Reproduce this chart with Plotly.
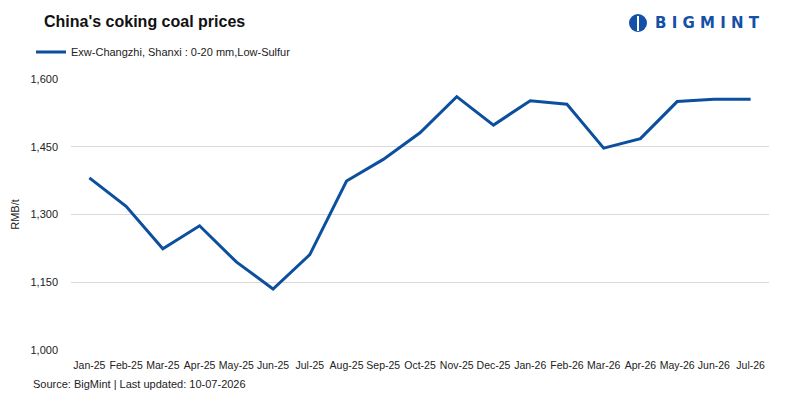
import plotly.graph_objects as go

months = ["Jan-25", "Feb-25", "Mar-25", "Apr-25", "May-25", "Jun-25", "Jul-25",
          "Aug-25", "Sep-25", "Oct-25", "Nov-25", "Dec-25", "Jan-26", "Feb-26",
          "Mar-26", "Apr-26", "May-26", "Jun-26", "Jul-26"]
prices = [1381, 1318, 1224, 1275, 1195, 1135, 1211, 1374, 1422, 1481, 1561,
          1498, 1552, 1544, 1447, 1468, 1550, 1555, 1555]
series_name = "Exw-Changzhi, Shanxi : 0-20 mm,Low-Sulfur"
y_ticks = [1000, 1150, 1300, 1450, 1600]
y_ticklabels = ["1,000", "1,150", "1,300", "1,450", "1,600"]

BLUE = "#0b4f9e"
FONT = "Liberation Sans"

L, R, T, B = 71, 31, 79, 50
PW, PH = 800 - L - R, 400 - T - B


def px(x):
    return (x - L) / PW


def py(y):
    return (400 - B - y) / PH


fig = go.Figure()
fig.add_trace(go.Scatter(x=months, y=prices, mode="lines", name=series_name,
                         line=dict(color=BLUE, width=3)))

fig.update_layout(
    width=800, height=400,
    margin=dict(l=L, r=R, t=T, b=B, autoexpand=False),
    paper_bgcolor="white", plot_bgcolor="white",
    font=dict(family=FONT, size=11, color="#222"),
    showlegend=True,
    legend=dict(orientation="h", x=px(31), y=py(52), xanchor="left", yanchor="middle",
                font=dict(size=11, color="#222"), bgcolor="rgba(0,0,0,0)",
                itemwidth=30),
    xaxis=dict(type="category", showgrid=False, zeroline=False, showline=False,
               ticks="", tickangle=0, automargin=False, ticklabelstandoff=7,
               tickfont=dict(size=10.5, color="#222"), range=[-0.5, 18.5]),
    yaxis=dict(range=[1000, 1600], tickvals=y_ticks, ticktext=y_ticklabels,
               showgrid=True, gridcolor="#d9d9d9", gridwidth=1, zeroline=False,
               showline=False, ticks="", ticklabelstandoff=12, automargin=False,
               tickfont=dict(size=11, color="#222"),
               title=dict(text="RMB/t", font=dict(size=11, color="#222"), standoff=8)),
)

fig.add_annotation(text="<b>China's coking coal prices</b>", xref="paper", yref="paper",
                   x=px(42), y=py(22), xanchor="left", yanchor="middle",
                   showarrow=False, font=dict(size=16, color="#111", family=FONT))
fig.add_annotation(text="Source: BigMint | Last updated: 10-07-2026", xref="paper", yref="paper",
                   x=px(31), y=py(384), xanchor="left", yanchor="middle",
                   showarrow=False, font=dict(size=11, color="#222", family=FONT))
# logo
fig.add_annotation(text="<b>B I G M I N T</b>", xref="paper", yref="paper",
                   x=px(653), y=py(23), xanchor="left", yanchor="middle",
                   showarrow=False, font=dict(size=15, color="#1450a8", family="DejaVu Sans"))
fig.add_shape(type="circle", xref="paper", yref="paper",
              x0=px(629), x1=px(647), y0=py(32), y1=py(14),
              fillcolor="#1450a8", line=dict(width=0))
fig.add_shape(type="rect", xref="paper", yref="paper",
              x0=px(637), x1=px(639), y0=py(31), y1=py(16),
              fillcolor="white", line=dict(width=0))

fig.write_html("out.html")
